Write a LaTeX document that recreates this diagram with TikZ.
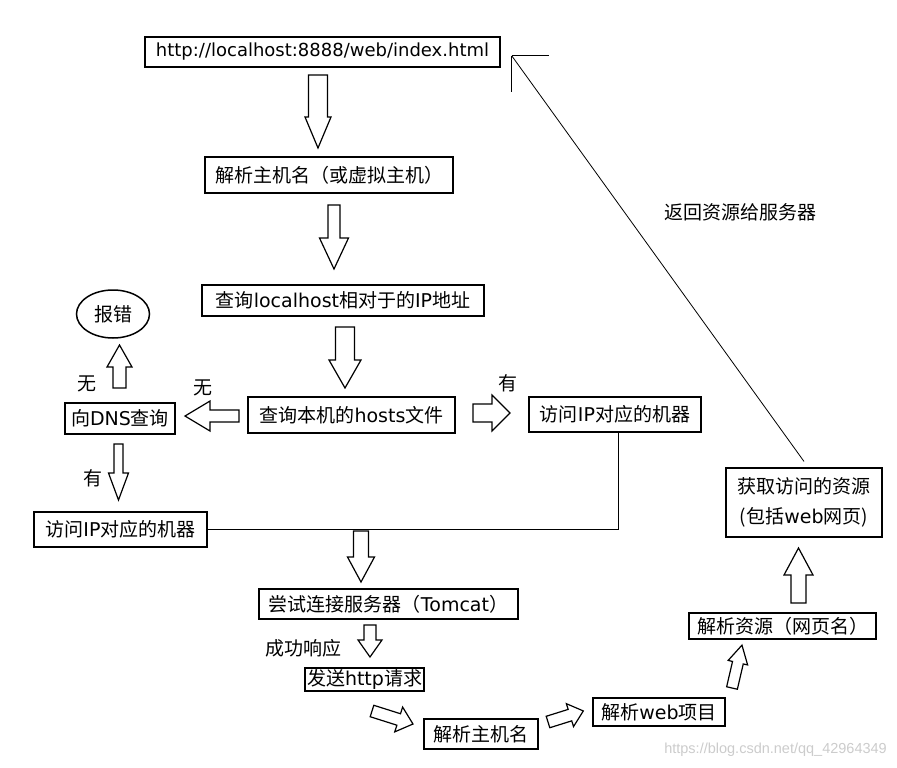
\documentclass[tikz,border=0pt]{standalone}
\usepackage{fontspec}
\usetikzlibrary{shapes.geometric}
\setmainfont{Noto Sans CJK SC}
\newfontfamily\latf{DejaVu Sans}
\newfontfamily\wmf{Liberation Sans}
\newcommand\lat[1]{{\latf #1}}
% block arrow: x y angle length shaft-half head-half head-length
\newcommand\blk[7]{\draw[arr, shift={(#1,#2)}, rotate=#3] (0,-#5) -- ({#4-#7},-#5) -- ({#4-#7},-#6) -- (#4,0) -- ({#4-#7},#6) -- ({#4-#7},#5) -- (0,#5) -- cycle;}
\tikzset{
  bx/.style={draw, line width=1.8pt, inner sep=0pt, font=\fontsize{19}{22}\selectfont},
  bxt/.style={draw, line width=1.1pt, inner sep=0pt, font=\fontsize{19}{22}\selectfont},
  arr/.style={draw, line width=1.2pt, fill=white, line join=miter},
  lbl/.style={inner sep=0pt, font=\fontsize{19}{22}\selectfont},
  conn/.style={line width=1pt},
  ret/.style={line width=0.8pt}
}
\begin{document}
\begin{tikzpicture}[x=1pt,y=-1pt]
\fill[white] (0,0) rectangle (897,768);
\useasboundingbox (0,0) rectangle (897,768);

% boxes
\node[bx, minimum width=355pt, minimum height=30pt, font=\fontsize{18}{21}\selectfont] (url) at (322.5,52) {\lat{http://localhost:8888/web/index.html}};
\node[bx, minimum width=248pt, minimum height=36pt] (host) at (329,175) {解析主机名（或虚拟主机）};
\node[bx, minimum width=282pt, minimum height=31pt] (loc) at (343,300.5) {查询\lat{localhost}相对于的\lat{IP}地址};
\node[bx, minimum width=207pt, minimum height=36pt] (hosts) at (351.5,415) {查询本机的\lat{hosts}文件};
\node[bx, minimum width=110pt, minimum height=31pt] (dns) at (120,418.5) {向\lat{DNS}查询};
\node[draw, ellipse, line width=1.5pt, minimum width=73pt, minimum height=48pt, inner sep=0pt, font=\fontsize{19}{22}\selectfont] (err) at (113,314) {报错};
\node[bx, minimum width=172pt, minimum height=35pt] (rip) at (615,414.5) {访问\lat{IP}对应的机器};
\node[bx, minimum width=173pt, minimum height=35pt] (lip) at (120.5,529.5) {访问\lat{IP}对应的机器};
\node[bxt, minimum width=259pt, minimum height=30pt] (tom) at (388.5,604) {尝试连接服务器（\lat{Tomcat}）};
\node[bxt, minimum width=119pt, minimum height=23pt] (send) at (364.5,679.5) {发送\lat{http}请求};
\node[bxt, minimum width=114pt, minimum height=30pt] (parse) at (481,734) {解析主机名};
\node[bxt, minimum width=132pt, minimum height=28pt] (web) at (659,712) {解析\lat{web}项目};
\node[bxt, minimum width=187pt, minimum height=26pt] (resn) at (782.5,626) {解析资源（网页名）};
\node[bxt, minimum width=156pt, minimum height=69pt, align=center, font=\fontsize{19}{30}\selectfont] (res) at (804,502.5) {获取访问的资源\\(包括\lat{web}网页)};

% block arrows
\blk{318}{75}{-90}{73}{9.5}{13}{31}
\blk{334}{205}{-90}{64}{6}{14.5}{31}
\blk{345}{327}{-90}{61}{9.5}{16}{28}
\blk{239}{416}{180}{54}{6}{15}{25}
\blk{119.5}{388}{90}{43}{6.5}{12.5}{22}
\blk{473}{413}{0}{37}{9}{18}{18}
\blk{118.5}{444}{-90}{56}{4.5}{10}{27}
\blk{361}{531}{-90}{51}{7.5}{13.5}{25}
\blk{370}{625}{-90}{32}{6}{12}{17}
\blk{372}{711}{-17.6}{43}{6}{13}{15}
\blk{548}{722}{17.4}{37}{6}{12}{14}
\blk{732}{688}{76.9}{44}{5.5}{10}{18}
\blk{798.5}{603}{90}{55}{7.5}{14.5}{27}

% labels
\node[lbl] (l1) at (87,384) {无};
\node[lbl] (l2) at (203,388) {无};
\node[lbl] (l3) at (508,383) {有};
\node[lbl] (l4) at (93,478) {有};
\node[lbl] (l5) at (303,648) {成功响应};
\node[lbl] (l6) at (740,212) {返回资源给服务器};

% connectors
\draw[conn] ([xshift=3pt]rip.south) |- (lip.east);
\coordinate (rc) at ([xshift=11pt,yshift=-4pt]url.east);
\draw[ret] ([yshift=6pt]res.north) -- (rc);
\draw[conn] (rc) -- ++(37,0);
\draw[conn] (rc) -- ++(0,36);

% watermark
\node[anchor=east, inner sep=0pt, text=gray!40, font=\wmf\fontsize{14.5}{16}\selectfont] (wm) at (887,750) {https://blog.csdn.net/qq\_42964349};
\end{tikzpicture}
\end{document}
